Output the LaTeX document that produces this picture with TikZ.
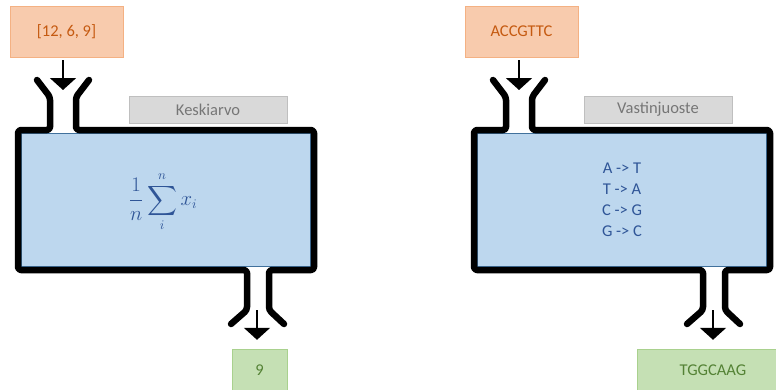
\documentclass[tikz,border=0pt]{standalone}
\usepackage{graphicx}
\usepackage{exscale}
\usepackage{fontspec}
\setmainfont{Carlito}
\usetikzlibrary{arrows.meta}

\tikzset{
  inbox/.style={draw={rgb,255:red,244; green,177; blue,131}, fill={rgb,255:red,248; green,203; blue,173},
    text={rgb,255:red,197; green,90; blue,17}, minimum height=51pt, inner sep=0pt, font=\fontsize{16.5}{19}\selectfont},
  outbox/.style={draw={rgb,255:red,169; green,209; blue,142}, fill={rgb,255:red,197; green,224; blue,180},
    text={rgb,255:red,84; green,130; blue,53}, minimum height=42pt, inner sep=0pt, font=\fontsize{16.5}{19}\selectfont},
  tag/.style={draw={rgb,255:red,191; green,191; blue,191}, fill={rgb,255:red,217; green,217; blue,217},
    text={rgb,255:red,118; green,118; blue,118}, minimum height=27pt, inner sep=0pt, font=\fontsize{16.5}{19}\selectfont},
  inside/.style={text={rgb,255:red,47; green,85; blue,151}, inner sep=0pt},
  pipe/.style={line width=6.5pt, line cap=round, line join=round, rounded corners=3pt},
  flow/.style={line width=2pt, -{Triangle[width=26pt,length=12pt]}}
}

\begin{document}
\begin{tikzpicture}[x=1pt,y=-1pt]
  \useasboundingbox (0,0) rectangle (776,389);
  \clip (0,0) rectangle (776,389);
%баки
  \foreach \s/\n in {0/1,456/2}{
    \begin{scope}[xshift=\s]
      \filldraw[fill={rgb,255:red,189; green,215; blue,238}, draw={rgb,255:red,65; green,113; blue,156}, line width=0.75pt]
        (21.5,133.5) rectangle (310.5,266.5);
      \draw[pipe] (37,80) -- (50,97) -- (50,130) -- (18,130) -- (18,270) -- (247,270) -- (247,310) -- (231,324);
      \draw[pipe] (89,80) -- (76,97) -- (76,130) -- (314,130) -- (314,270) -- (269,270) -- (269,310) -- (284,324);
      \coordinate (top\n) at (63,90);
      \coordinate (bot\n) at (257,310);
    \end{scope}
  }
%левая
  \node[inbox, minimum width=113pt] (in1) at (66.5,31.5) {[12, 6, 9]};
  \node[tag, minimum width=158pt] (tag1) at (208,109.5) {Keskiarvo};
  \node[inside, font=\fontsize{16}{19}\selectfont] (calc1) at (163,202) {\scalebox{1.2}{$\displaystyle\frac{1}{n}\sum_{i}^{n}x_i$}};
  \node[outbox, minimum width=55pt] (out1) at (259.5,370) {9};
  \draw[flow, shorten <=3pt] (in1.south -| top1) -- (top1);
  \draw[flow, shorten >=9pt] (bot1) -- (bot1 |- out1.north);
%правая
  \node[inbox, minimum width=113pt] (in2) at (521.5,31.5) {ACCGTTC};
  \node[tag, minimum width=148pt] (tag2) at (658,109.5) {Vastinjuoste};
  \node[inside, align=center, font=\fontsize{16.5}{21}\selectfont] (calc2) at (622,200) {A -> T\\T -> A\\C -> G\\G -> C};
  \node[outbox, minimum width=152pt] (out2) at (713,370) {TGGCAAG};
  \draw[flow, shorten <=3pt] (in2.south -| top2) -- (top2);
  \draw[flow, shorten >=9pt] (bot2) -- (bot2 |- out2.north);
\end{tikzpicture}
\end{document}
